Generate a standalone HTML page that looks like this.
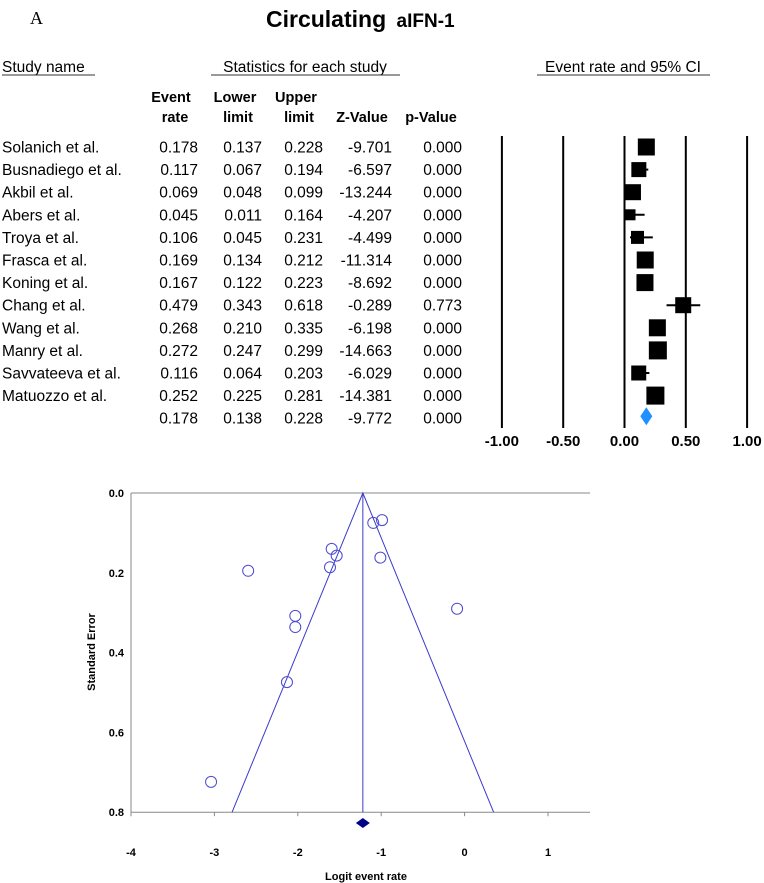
<!DOCTYPE html>
<html><head><meta charset="utf-8"><style>
body{margin:0;background:#fff;width:764px;height:883px;overflow:hidden}
svg{display:block;font-family:"Liberation Sans",Arial,sans-serif}
</style></head><body>
<svg id="s" width="764" height="883">
<text x="30" y="24" font-family="Liberation Serif" font-size="18">A</text>
<text x="266" y="27" font-size="23" font-weight="bold">Circulating <tspan font-size="19" dx="4">aIFN-1</tspan></text>
<text x="2" y="72" font-size="15.5">Study name</text>
<line x1="2" y1="75" x2="95" y2="75" stroke="#333" stroke-width="1"/>
<text x="305" y="72" font-size="15.5" text-anchor="middle">Statistics for each study</text>
<line x1="211" y1="75" x2="400" y2="75" stroke="#333" stroke-width="1"/>
<text x="623" y="72" font-size="15.5" text-anchor="middle">Event rate and 95% CI</text>
<line x1="537" y1="75" x2="710" y2="75" stroke="#333" stroke-width="1"/>
<g font-size="14.5" font-weight="bold" text-anchor="middle">
<text x="171" y="102">Event</text><text x="175" y="122">rate</text>
<text x="235" y="102">Lower</text><text x="238" y="122">limit</text>
<text x="296" y="102">Upper</text><text x="299" y="122">limit</text>
<text x="362" y="122">Z-Value</text><text x="431" y="122">p-Value</text>
</g>
<g id="table"></g><g id="forest"></g><g id="funnel"></g>
</svg>
<script>
const studies=["Solanich et al.","Busnadiego et al.","Akbil et al.","Abers et al.","Troya et al.","Frasca et al.","Koning et al.","Chang et al.","Wang et al.","Manry et al.","Savvateeva et al.","Matuozzo et al.",""];
const rate=[0.178,0.117,0.069,0.045,0.106,0.169,0.167,0.479,0.268,0.272,0.116,0.252,0.178];
const lower=[0.137,0.067,0.048,0.011,0.045,0.134,0.122,0.343,0.210,0.247,0.064,0.225,0.138];
const upper=[0.228,0.194,0.099,0.164,0.231,0.212,0.223,0.618,0.335,0.299,0.203,0.281,0.228];
const zval=[-9.701,-6.597,-13.244,-4.207,-4.499,-11.314,-8.692,-0.289,-6.198,-14.663,-6.029,-14.381,-9.772];
const pval=[0.000,0.000,0.000,0.000,0.000,0.000,0.000,0.773,0.000,0.000,0.000,0.000,0.000];
const boxSize=[17,15,16,11,13,17,17,16,17,18,15,18];
const forestTicks=[-1,-0.5,0,0.5,1];
const funnelLogit=[-1.095,-0.99,-1.594,-1.534,-1.614,-1.01,-2.595,-0.09,-2.03,-2.03,-2.13,-3.04];
const funnelSE=[0.075,0.068,0.14,0.157,0.186,0.162,0.195,0.29,0.308,0.336,0.474,0.724];
const pooledLogit=-1.22;
const xTicks=[-4,-3,-2,-1,0,1];
const yTicks=[0,0.2,0.4,0.6,0.8];

const NS="http://www.w3.org/2000/svg";
function mk(p,t,a,txt){const e=document.createElementNS(NS,t);for(const k in a)e.setAttribute(k,a[k]);if(txt!==undefined)e.textContent=txt;p.appendChild(e);return e;}
const rowY=i=>147+i*22.6;
const tbl=document.getElementById('table');
const cols=[[rate,198,3],[lower,262,3],[upper,323,3],[zval,392,3],[pval,462,3]];
studies.forEach((s,i)=>{
  const y=rowY(i)+5.5;
  const t=mk(tbl,'text',{x:2,y:y,'font-size':15.5},s);
  
  
  cols.forEach(c=>{const v=mk(tbl,'text',{x:c[1],y:y,'font-size':15.5,'text-anchor':'end'},c[0][i].toFixed(c[2]));
    
    });
});
const fg=document.getElementById('forest');
const fx=v=>624.5+v*122.6;
forestTicks.forEach(t=>{
  const l=mk(fg,'line',{x1:fx(t),x2:fx(t),y1:136,y2:428,stroke:'#000','stroke-width':2});
  
  
  const tx=mk(fg,'text',{x:fx(t),y:446,'font-size':15,'font-weight':'bold','text-anchor':'middle'},t.toFixed(2));
  
  
});
for(let i=0;i<12;i++){
  const y=rowY(i);
  const l=mk(fg,'line',{x1:fx(lower[i]),x2:fx(upper[i]),y1:y,y2:y,stroke:'#000','stroke-width':2});
  
  
  const b=boxSize[i];
  const r=mk(fg,'rect',{x:fx(rate[i])-b/2,y:y-b/2,width:b,height:b,fill:'#000'});
  
  
}
{const y=rowY(12)-2,c=fx(rate[12]);
 const d=mk(fg,'polygon',{points:`${c-6},${y} ${c},${y-9} ${c+6},${y} ${c},${y+9}`,fill:'#1e90ff'});
 
 }
const g=document.getElementById('funnel');
const X=v=>131+(v+4)*83.4, Y=v=>493+v*399;
mk(g,'line',{x1:X(-4),x2:590,y1:Y(0),y2:Y(0),stroke:'#888'});
mk(g,'line',{x1:X(-4),x2:590,y1:Y(0.8),y2:Y(0.8),stroke:'#888'});
mk(g,'line',{x1:X(-4),x2:X(-4),y1:Y(0),y2:Y(0.8),stroke:'#888'});
xTicks.forEach(t=>{
  mk(g,'line',{x1:X(t),x2:X(t),y1:Y(0.8),y2:Y(0.8)+4,stroke:'#888'});
  const tx=mk(g,'text',{x:X(t),y:856,'font-size':11,'font-weight':'bold','text-anchor':'middle'},String(t));
  
  
});
yTicks.forEach(t=>{
  const tx=mk(g,'text',{x:124,y:Y(t)+4,'font-size':11,'font-weight':'bold','text-anchor':'end'},t.toFixed(1));
  
  
});
const xt=mk(g,'text',{x:366,y:880,'font-size':11,'font-weight':'bold','text-anchor':'middle'},'Logit event rate');


const yt=mk(g,'text',{x:0,y:0,'font-size':11,'font-weight':'bold','text-anchor':'middle',transform:'translate(95,652) rotate(-90)'},'Standard Error');


const fl=mk(g,'polyline',{points:`${X(pooledLogit-1.96*0.8)},${Y(0.8)} ${X(pooledLogit)},${Y(0)} ${X(pooledLogit+1.96*0.8)},${Y(0.8)}`,fill:'none',stroke:'#3a3acc','stroke-width':1});


const ml=mk(g,'line',{x1:X(pooledLogit),x2:X(pooledLogit),y1:Y(0),y2:Y(0.8),stroke:'#3a3acc'});


funnelLogit.forEach((v,i)=>{
  const c=mk(g,'circle',{cx:X(v),cy:Y(funnelSE[i]),r:5.5,fill:'none',stroke:'#4a4ad0','stroke-width':1});
  
  
});
{const c=X(pooledLogit),y=823;
 const d=mk(g,'polygon',{points:`${c-7},${y} ${c},${y-5} ${c+7},${y} ${c},${y+5}`,fill:'#00008b'});
 
 }
</script>
</body></html>
